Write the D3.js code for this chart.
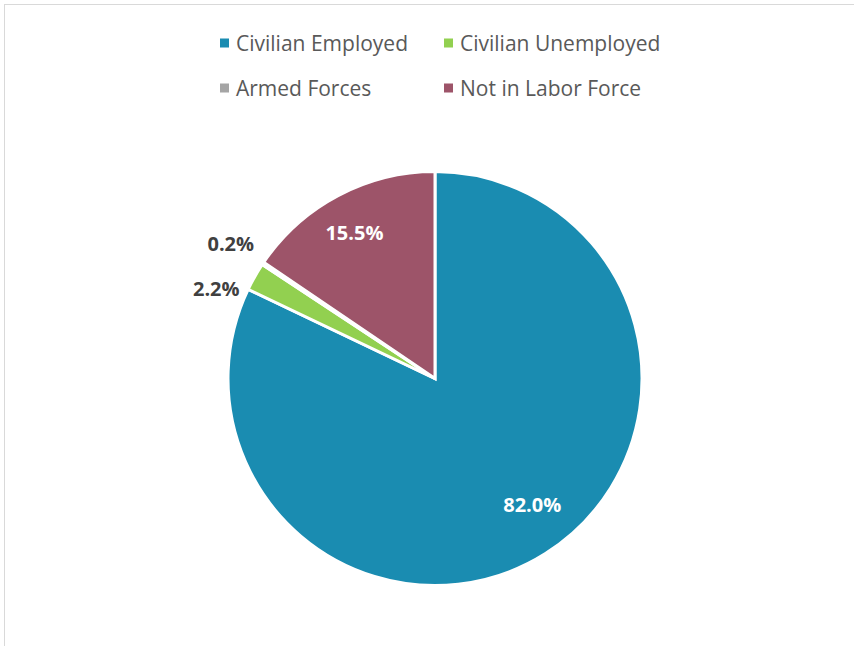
<!DOCTYPE html>
<html>
<head>
<meta charset="utf-8">
<script src="https://cdn.jsdelivr.net/npm/d3@7"></script>
<style>
  html, body { margin: 0; padding: 0; background: #fff; }
  svg { display: block; }
</style>
</head>
<body>
<svg id="chart" width="854" height="646"></svg>
<script>
// Employment status shares (percent)
const categories = ["Civilian Employed", "Civilian Unemployed", "Armed Forces", "Not in Labor Force"];
const values = [82.0, 2.2, 0.2, 15.5];
const labels = ["82.0%", "2.2%", "0.2%", "15.5%"];
const colors = ["#1A8CB1", "#92D050", "#A5A5A5", "#9D5469"];

const svg = d3.select("#chart");
const W = 854, H = 646;

// Chart frame
svg.append("rect")
  .attr("x", 4.5).attr("y", 4.5)
  .attr("width", W + 20).attr("height", H + 20)
  .attr("fill", "none")
  .attr("stroke", "#D9D9D9")
  .attr("stroke-width", 1);

// Pie
const cx = 435, cy = 378.5, R = 207;
const data = categories.map((c, i) => ({ name: c, value: values[i], label: labels[i], color: colors[i] }));

const pie = d3.pie().value(d => d.value).sort(null);
const arc = d3.arc().innerRadius(0).outerRadius(R);
const arcs = pie(data);

const g = svg.append("g").attr("transform", `translate(${cx},${cy})`);
g.selectAll("path")
  .data(arcs)
  .join("path")
  .attr("d", arc)
  .attr("fill", d => d.data.color)
  .attr("stroke", "#fff")
  .attr("stroke-width", 3)
  .attr("stroke-linejoin", "miter");

// Data labels: inside for large slices, outside for small ones
const inside = d3.arc().innerRadius(R * 0.79).outerRadius(R * 0.79);
const outside = d3.arc().innerRadius(R * 1.04).outerRadius(R * 1.04);
const labelFont = "'Open Sans', 'Noto Sans', sans-serif";
// small neighbouring slices: nudge their labels apart
const nudge = { "Civilian Unemployed": [-8, 16], "Armed Forces": [-2, -15] };

g.selectAll("text.lbl")
  .data(arcs)
  .join("text")
  .attr("class", "lbl")
  .each(function(d) {
    const sel = d3.select(this);
    if (d.data.value > 5) {
      const [x, y] = inside.centroid(d);
      const adj = d.data.name === "Civilian Employed" ? [10, -12] : [-4, -2];
      sel.attr("x", x + adj[0]).attr("y", y + adj[1]).attr("text-anchor", "middle").attr("fill", "#fff");
    } else {
      const [x, y] = outside.centroid(d);
      const [dx, dy] = nudge[d.data.name];
      sel.attr("x", x + dx).attr("y", y + dy).attr("text-anchor", "end").attr("fill", "#404040");
    }
  })
  .attr("dominant-baseline", "central")
  .attr("font-family", labelFont)
  .attr("font-weight", "bold")
  .attr("font-size", 20)
  .text(d => d.data.label);

// Legend (two rows, two columns)
const legendPos = [[226, 43], [450, 43], [226, 88], [450, 88]];
const lg = svg.append("g");
data.forEach((d, i) => {
  const [x, y] = legendPos[i];
  lg.append("rect")
    .attr("x", x - 6).attr("y", y - 4.5)
    .attr("width", 9).attr("height", 9)
    .attr("fill", d.color);
  lg.append("text")
    .attr("x", x + 10).attr("y", y)
    .attr("dominant-baseline", "central")
    .attr("font-family", labelFont)
    .attr("font-size", 21)
    .attr("fill", "#595959")
    .text(d.name);
});
</script>
</body>
</html>
